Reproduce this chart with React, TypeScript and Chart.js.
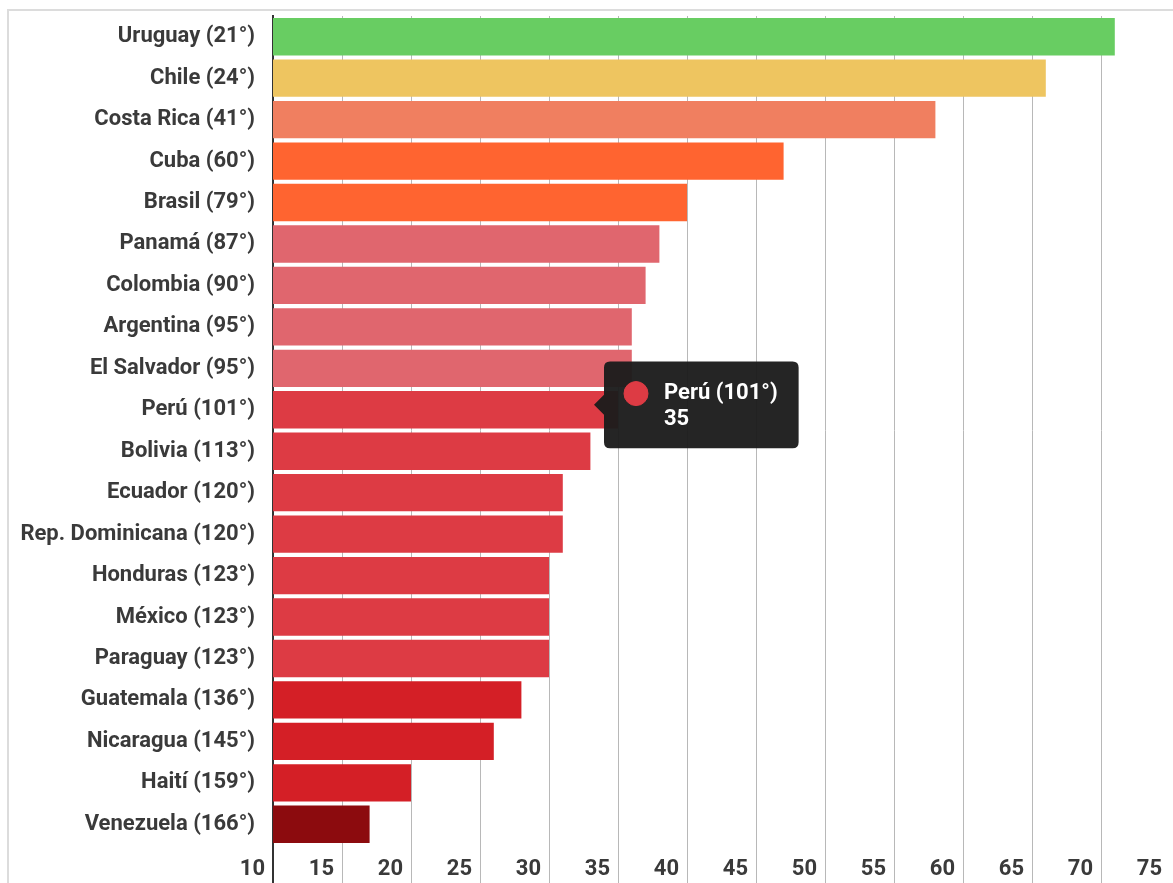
import React, { useEffect, useRef } from 'react';
import { Chart, registerables, Tooltip } from 'chart.js';

Chart.register(...registerables);

const countries = [
  'Uruguay (21°)', 'Chile (24°)', 'Costa Rica (41°)', 'Cuba (60°)', 'Brasil (79°)',
  'Panamá (87°)', 'Colombia (90°)', 'Argentina (95°)', 'El Salvador (95°)', 'Perú (101°)',
  'Bolivia (113°)', 'Ecuador (120°)', 'Rep. Dominicana (120°)', 'Honduras (123°)', 'México (123°)',
  'Paraguay (123°)', 'Guatemala (136°)', 'Nicaragua (145°)', 'Haití (159°)', 'Venezuela (166°)',
];

const scores = [71, 66, 58, 47, 40, 38, 37, 36, 36, 35, 33, 31, 31, 30, 30, 30, 28, 26, 20, 17];

const barColors = [
  '#68cd62', '#eec560', '#f07f60', '#ff6430', '#ff6430',
  '#e0666e', '#e0666e', '#e0666e', '#e0666e', '#dd3b44',
  '#dd3b44', '#dd3b44', '#dd3b44', '#dd3b44', '#dd3b44',
  '#dd3b44', '#d41f26', '#d41f26', '#d41f26', '#8c0b0e',
];

const xMin = 10;
const xMax = 75;
const xStep = 5;
const highlightedIndex = 9;

const FONT = 'Roboto, "Noto Sans", sans-serif';

(Tooltip as any).positioners.pinned = function (elements: any[]) {
  if (!elements.length) return false;
  const el = elements[0].element;
  return { x: el.x - 24, y: el.y - 5 };
};

const framePlugin = {
  id: 'frame',
  beforeDraw(chart: any) {
    const ctx = chart.ctx;
    ctx.save();
    ctx.fillStyle = '#ffffff';
    ctx.fillRect(0, 0, chart.width, chart.height);
    ctx.strokeStyle = '#dcdcdc';
    ctx.lineWidth = 2;
    ctx.beginPath();
    ctx.moveTo(8, chart.height + 5);
    ctx.lineTo(8, 10);
    ctx.lineTo(chart.width + 5, 10);
    ctx.stroke();
    ctx.restore();
  },
};

export default function App() {
  const canvasRef = useRef<HTMLCanvasElement>(null);

  useEffect(() => {
    const canvas = canvasRef.current;
    if (!canvas) return;
    const lastTick = Math.round((xMax - xMin) / xStep);
    const chart = new Chart(canvas, {
      type: 'bar',
      data: {
        labels: countries,
        datasets: [
          {
            data: scores,
            backgroundColor: barColors,
            hoverBackgroundColor: barColors,
            borderWidth: 0,
            barPercentage: 0.9,
            categoryPercentage: 1,
          },
        ],
      },
      options: {
        indexAxis: 'y',
        responsive: false,
        animation: false,
        events: [],
        layout: { padding: { top: 16, right: 3, left: 0, bottom: 0 } },
        scales: {
          x: {
            min: xMin,
            max: xMax,
            afterFit: (scale: any) => {
              scale.height = 38;
              scale.paddingLeft = 0;
              scale.paddingRight = 0;
            },
            ticks: {
              stepSize: xStep,
              align: 'end',
              labelOffset: -8,
              padding: -29,
              color: '#3a3a3a',
              font: { family: FONT, size: 22, weight: 'bold' },
            },
            grid: {
              color: (c: any) => (c.index === 0 ? '#333' : c.index === lastTick ? 'rgba(0,0,0,0)' : '#b8b8b8'),
              tickColor: (c: any) => (c.index === 0 ? '#333' : c.index === lastTick ? 'rgba(0,0,0,0)' : '#b8b8b8'),
              lineWidth: (c: any) => (c.index === 0 ? 2 : 1),
              tickLength: 40,
              drawTicks: true,
            },
            border: { display: false },
          },
          y: {
            afterFit: (scale: any) => {
              scale.width = 273;
              scale.paddingTop = 0;
              scale.paddingBottom = 0;
            },
            ticks: {
              padding: 18,
              color: '#3a3a3a',
              font: { family: FONT, size: 22, weight: 'bold' },
            },
            grid: { display: false, drawTicks: false },
            border: { display: true, color: '#333', width: 2 },
          },
        },
        plugins: {
          legend: { display: false },
          title: { display: false },
          tooltip: {
            enabled: true,
            position: 'pinned' as any,
            xAlign: 'left',
            yAlign: 'center',
            backgroundColor: 'rgba(28,28,28,0.96)',
            cornerRadius: 6,
            caretSize: 10,
            caretPadding: 0,
            padding: { left: 20, right: 21, top: 19, bottom: 15 },
            displayColors: true,
            usePointStyle: true,
            boxWidth: 24,
            boxHeight: 24,
            boxPadding: 14,
            bodySpacing: 0,
            bodyColor: '#ffffff',
            multiKeyBackground: 'rgba(0,0,0,0)',
            bodyFont: { family: FONT, size: 22, weight: 'bold' },
            callbacks: {
              title: () => [],
              label: (c: any) => [String(c.label), String(c.parsed.x)],
              labelColor: (c: any) => ({
                borderColor: barColors[c.dataIndex],
                backgroundColor: barColors[c.dataIndex],
                borderWidth: 0,
              }),
              labelPointStyle: () => ({ pointStyle: 'circle', rotation: 0 }),
            },
          },
        },
      },
      plugins: [framePlugin],
    } as any);

    const active = [{ datasetIndex: 0, index: highlightedIndex }];
    chart.setActiveElements(active);
    chart.tooltip?.setActiveElements(active, { x: 0, y: 0 });
    chart.update();

    return () => chart.destroy();
  }, []);

  return (
    <div style={{ position: 'fixed', left: 0, top: 0, width: 1173, height: 883, background: '#fff' }}>
      <canvas ref={canvasRef} width={1173} height={883} style={{ display: 'block', width: 1173, height: 883 }} />
    </div>
  );
}
